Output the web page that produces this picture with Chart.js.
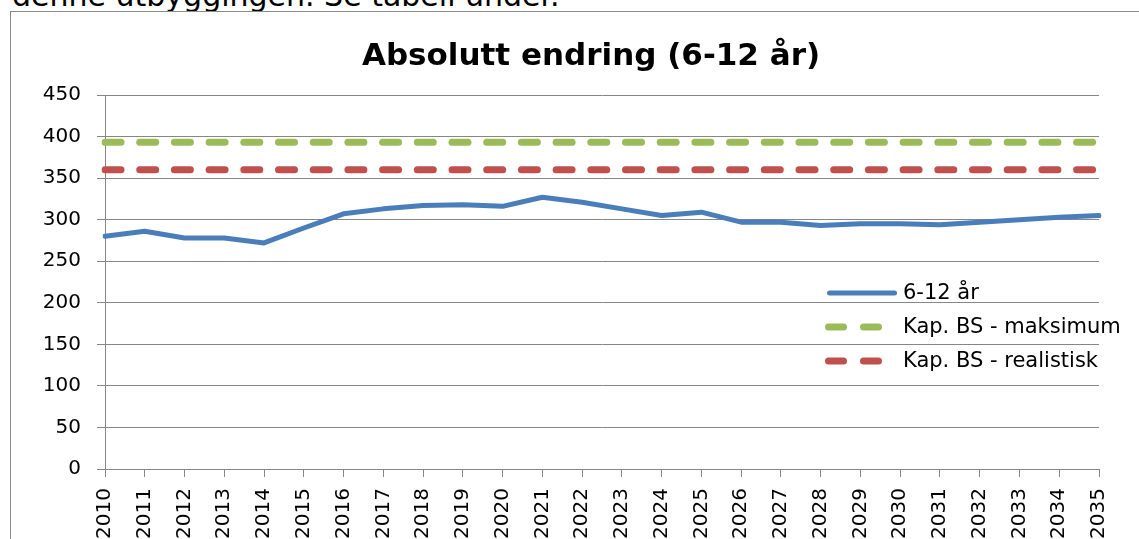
<!DOCTYPE html>
<html>
<head>
<meta charset="utf-8">
<script src="https://cdn.jsdelivr.net/npm/chart.js@4"></script>
<style>
  html, body { margin:0; padding:0; background:#fff; overflow:hidden; width:1139px; height:539px; }
  #toptext { position:absolute; left:12px; top:-19px; font-family:"DejaVu Sans"; font-size:30px; line-height:30px; color:#000; white-space:nowrap; }
  #frame { position:absolute; left:10px; top:11px; width:1200px; height:600px; border:1px solid #8a8a8a; background:#fff; }
  #c { position:absolute; left:0; top:0; }
</style>
</head>
<body>
<div id="toptext">denne utbyggingen. Se tabell under.</div>
<div id="frame"><canvas id="c" width="1160" height="527"></canvas></div>
<script>
const chartTitle = 'Absolutt endring (6-12 år)';
const years = ['2010','2011','2012','2013','2014','2015','2016','2017','2018','2019','2020','2021','2022','2023','2024','2025','2026','2027','2028','2029','2030','2031','2032','2033','2034','2035'];
const age6to12 = [280,286,278,278,272,290,307,313,317,318,316,327,321,313,305,309,297,297,293,295,295,294,297,300,303,305];
const kapMaksimum = [393,393,393,393,393,393,393,393,393,393,393,393,393,393,393,393,393,393,393,393,393,393,393,393,393,393];
const kapRealistisk = [360,360,360,360,360,360,360,360,360,360,360,360,360,360,360,360,360,360,360,360,360,360,360,360,360,360];
const seriesLabels = ['6-12 år','Kap. BS - maksimum','Kap. BS - realistisk'];
const yMin = 0, yMax = 450, yStep = 50;

const GRID = '#868686';
const FONT = 'DejaVu Sans';

const legendPlugin = {
  id: 'customLegend',
  afterDraw(chart) {
    const ctx = chart.ctx;
    const rows = [281, 315, 349];
    ctx.save();
    chart.data.datasets.forEach((ds, i) => {
      const y = rows[i];
      ctx.strokeStyle = ds.borderColor;
      ctx.lineWidth = ds.borderWidth;
      ctx.lineCap = 'round';
      ctx.beginPath();
      if (ds.borderDash && ds.borderDash.length) {
        ctx.setLineDash([15, 20]);
        ctx.moveTo(817.5, y); ctx.lineTo(869, y);
      } else {
        ctx.setLineDash([]);
        ctx.moveTo(818.5, y); ctx.lineTo(883.5, y);
      }
      ctx.stroke();
      ctx.setLineDash([]);
      ctx.fillStyle = '#000';
      ctx.font = '21px "' + FONT + '"';
      ctx.textBaseline = 'middle';
      ctx.textAlign = 'left';
      ctx.fillText(ds.label, 892, y + 1);
    });
    ctx.restore();
  }
};

Chart.defaults.font.family = FONT;
Chart.defaults.color = '#000';

new Chart(document.getElementById('c'), {
  type: 'line',
  data: {
    labels: years,
    datasets: [
      { label: seriesLabels[0], data: age6to12, yAxisID: 'y', borderColor: '#4A7EBB', backgroundColor: '#4A7EBB', borderWidth: 5, pointRadius: 0, tension: 0, borderCapStyle: 'round', borderJoinStyle: 'round', order: 0 },
      { label: seriesLabels[1], data: kapMaksimum, yAxisID: 'y', borderColor: '#9BBB59', backgroundColor: '#9BBB59', borderWidth: 7, borderDash: [16, 18.7], borderCapStyle: 'round', pointRadius: 0, order: 1 },
      { label: seriesLabels[2], data: kapRealistisk, yAxisID: 'y', borderColor: '#C0504D', backgroundColor: '#C0504D', borderWidth: 7, borderDash: [16, 18.7], borderCapStyle: 'round', pointRadius: 0, order: 2 }
    ]
  },
  options: {
    responsive: false,
    animation: false,
    devicePixelRatio: 1,
    layout: { padding: { left: 0, right: 0, top: 0, bottom: 0 } },
    plugins: {
      legend: { display: false },
      tooltip: { enabled: false },
      title: {
        display: true,
        text: chartTitle,
        color: '#000',
        font: { family: FONT, size: 31, weight: 'bold', lineHeight: 1.2 },
        padding: { top: 26.4, bottom: 19.4 }
      }
    },
    scales: {
      x: {
        offset: false,
        grid: { display: true, drawOnChartArea: false, drawTicks: true, tickLength: 8, color: GRID, lineWidth: 1 },
        border: { display: true, color: GRID, width: 1 },
        ticks: { autoSkip: false, minRotation: 90, maxRotation: 90, padding: 11, color: '#000', font: { family: FONT, size: 20 } },
        afterFit(scale) { scale.height = 70; }
      },
      y: {
        position: 'left',
        min: yMin, max: yMax,
        grid: { color: GRID, lineWidth: 1, drawTicks: true, tickLength: 8 },
        border: { display: true, color: GRID, width: 1 },
        ticks: { stepSize: yStep, padding: 16, color: '#000', font: { family: FONT, size: 20 } },
        afterFit(scale) { scale.width = 94; }
      },
      ySpacer: {
        position: 'right',
        display: true,
        grid: { display: false, drawTicks: false },
        border: { display: false },
        ticks: { display: false },
        afterFit(scale) { scale.width = 72; }
      }
    }
  },
  plugins: [legendPlugin]
});
</script>
</body>
</html>
